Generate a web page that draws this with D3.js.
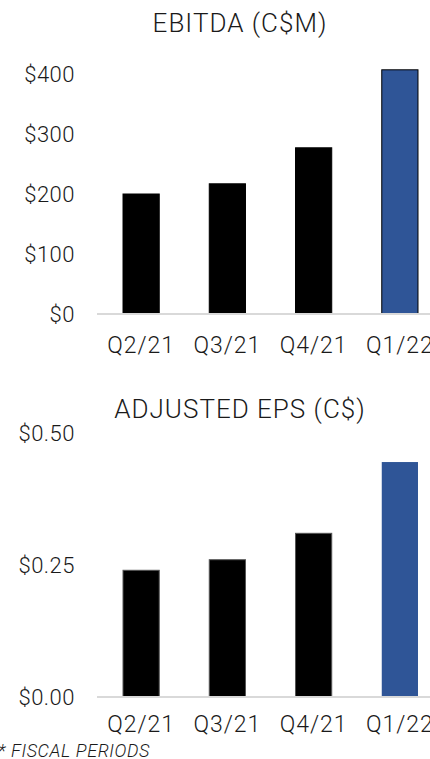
<!doctype html>
<html>
<head>
<script src="https://cdnjs.cloudflare.com/ajax/libs/d3/7.8.5/d3.min.js"></script>
<style>
  body { margin: 0; background: #fff; }
  svg text { font-family: "Roboto", "DejaVu Sans", sans-serif; font-weight: 300; fill: #1a1a1a; }
</style>
</head>
<body>
<svg id="chart" width="430" height="759"></svg>
<script>
    // fiscal quarters
    var quarters = ["Q2/21", "Q3/21", "Q4/21", "Q1/22"];
    var ebitda = [200, 217, 277, 407];
    var eps = [0.24, 0.26, 0.31, 0.445];
    var ebitdaTicks = [0, 100, 200, 300, 400];
    var epsTicks = [0, 0.25, 0.5];
    var barColors = ["#000000", "#000000", "#000000", "#2f5597"];

    var svg = d3.select("#chart");

    var x = d3.scaleBand().domain(quarters).range([98, 443]).paddingInner(0.58).paddingOuter(0.29);

    function drawPanel(opt) {
        var g = svg.append("g");
        var y = d3.scaleLinear().domain(opt.domain).range(opt.range);

        g.append("text")
            .attr("x", 240).attr("y", opt.titleY)
            .attr("text-anchor", "middle")
            .style("font-size", "26px")
            .style("letter-spacing", "1px")
            .text(opt.title);

        // y tick labels, no axis line
        g.selectAll("text.ytick")
            .data(opt.ticks)
            .enter().append("text")
            .attr("class", "ytick")
            .attr("x", 75)
            .attr("y", d => y(d))
            .attr("dy", "0.36em")
            .attr("text-anchor", "end")
            .style("font-size", "22px")
            .style("letter-spacing", "0.5px")
            .text(opt.fmt);

        g.selectAll("rect.bar")
            .data(opt.values)
            .enter().append("rect")
            .attr("class", "bar")
            .attr("x", (d, i) => x(quarters[i]))
            .attr("width", x.bandwidth())
            .attr("y", d => y(d))
            .attr("height", d => y(0) - y(d))
            .style("fill", (d, i) => barColors[i])
            .style("stroke", (d, i) => opt.outline ? "#000" : (i < 3 ? "#555" : "none"))
            .style("stroke-width", 1);

        // baseline
        g.append("line")
            .attr("x1", 97).attr("x2", 430)
            .attr("y1", y(0)).attr("y2", y(0))
            .style("stroke", "#d9d9d9").style("stroke-width", 2);

        var xAxis = d3.axisBottom(x).tickSize(0).tickPadding(0);
        var ax = g.append("g").attr("transform", "translate(0," + opt.labelY + ")").call(xAxis);
        ax.select(".domain").remove();
        ax.selectAll("text")
            .attr("dy", 0)
            .style("font-size", "23px")
            .style("letter-spacing", "1px");
    }

    drawPanel({
        title: "EBITDA (C$M)", titleY: 32,
        domain: [0, 400], range: [314, 74],
        values: ebitda, ticks: ebitdaTicks,
        fmt: d => "$" + d, outline: true, labelY: 353
    });

    drawPanel({
        title: "ADJUSTED EPS (C$)", titleY: 418,
        domain: [0, 0.5], range: [697, 433],
        values: eps, ticks: epsTicks,
        fmt: d => "$" + d3.format(".2f")(d), outline: false, labelY: 732
    });

    svg.append("text")
        .attr("x", -2).attr("y", 757)
        .style("font-size", "18px")
        .style("font-style", "italic")
        .style("letter-spacing", "0.6px")
        .text("* FISCAL PERIODS");
</script>
</body>
</html>
